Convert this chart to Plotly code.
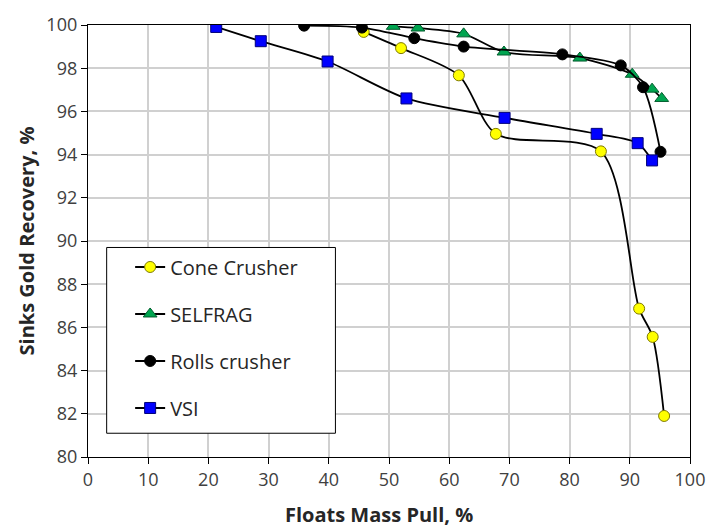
import plotly.graph_objects as go

# Data
cone_x = [45.8, 52.0, 61.6, 67.75, 85.2, 91.55, 93.8, 95.7]
cone_y = [99.68, 98.93, 97.67, 94.96, 94.15, 86.87, 85.56, 81.9]

self_x = [50.7, 54.8, 62.4, 69.1, 81.7, 90.4, 93.7, 95.3]
self_y = [99.94, 99.86, 99.59, 98.75, 98.47, 97.72, 97.03, 96.6]

rolls_x = [35.9, 45.5, 54.2, 62.4, 78.8, 88.5, 92.2, 95.1]
rolls_y = [99.97, 99.88, 99.39, 99.0, 98.64, 98.13, 97.12, 94.13]

vsi_x = [21.3, 28.7, 39.8, 52.9, 69.2, 84.5, 91.3, 93.7]
vsi_y = [99.91, 99.25, 98.31, 96.6, 95.7, 94.96, 94.53, 93.73]

x_ticks = [0, 10, 20, 30, 40, 50, 60, 70, 80, 90, 100]
y_ticks = [80, 82, 84, 86, 88, 90, 92, 94, 96, 98, 100]

FONT = "Open Sans"

fig = go.Figure()

series = [
    ("Cone Crusher", cone_x, cone_y, "circle", 11, "#ffff00", "#7f7a00"),
    ("SELFRAG", self_x, self_y, "triangle-up", 12, "#00a550", "#005c2c"),
    ("Rolls crusher", rolls_x, rolls_y, "circle", 11, "#000000", "#000000"),
    ("VSI", vsi_x, vsi_y, "square", 11, "#0000ff", "#00007a"),
]

for name, xs, ys, sym, sz, fill, edge in series:
    fig.add_trace(go.Scatter(
        x=xs, y=ys, name=name, mode="lines+markers", legendgroup=name,
        line=dict(color="#000000", width=1.8, shape="spline", smoothing=0.8),
        marker=dict(symbol=sym, size=sz, color=fill, line=dict(color=edge, width=1)),
    ))

fig.update_layout(
    width=717, height=527,
    margin=dict(l=88, r=16, t=22, b=70),
    paper_bgcolor="white", plot_bgcolor="white",
    font=dict(family=FONT, size=18, color="#404040"),
    showlegend=True,
    legend=dict(
        x=0.070, y=0.485, xanchor="left", yanchor="top",
        bgcolor="rgba(0,0,0,0)", borderwidth=0,
        font=dict(family=FONT, size=20, color="#262626"),
        tracegroupgap=18, itemwidth=30,
    ),
    shapes=[dict(
        type="rect", xref="paper", yref="paper",
        x0=0.031, x1=0.411, y0=0.055, y1=0.485,
        line=dict(color="#000000", width=1), fillcolor="white", layer="above",
    )],
    annotations=[
        dict(text="<b>Floats Mass Pull, %</b>", xref="paper", yref="paper",
             x=(384 - 88) / 613, y=-(515 - 457) / 435, xanchor="center", yanchor="middle",
             showarrow=False, font=dict(family=FONT, size=20, color="#262626")),
    ],
)

fig.update_xaxes(
    range=[0, 100], tickvals=x_ticks, ticktext=[str(v) for v in x_ticks],
    showgrid=True, gridcolor="#d0d0d0", gridwidth=1.5,
    showline=True, linecolor="#000000", linewidth=1.3, mirror=True,
    ticks="outside", ticklen=6, tickcolor="#000000", tickwidth=1.3,
    zeroline=False,
)

fig.update_yaxes(
    range=[80, 100], tickvals=y_ticks, ticktext=[str(v) for v in y_ticks],
    showgrid=True, gridcolor="#d0d0d0", gridwidth=1.5,
    showline=True, linecolor="#000000", linewidth=1.3, mirror=True,
    ticks="outside", ticklen=6, tickcolor="#000000", tickwidth=1.3,
    zeroline=False,
    title=dict(text="<b>Sinks Gold Recovery, %</b>", font=dict(family=FONT, size=20, color="#262626"), standoff=6),
)

fig.write_html("out.html")
